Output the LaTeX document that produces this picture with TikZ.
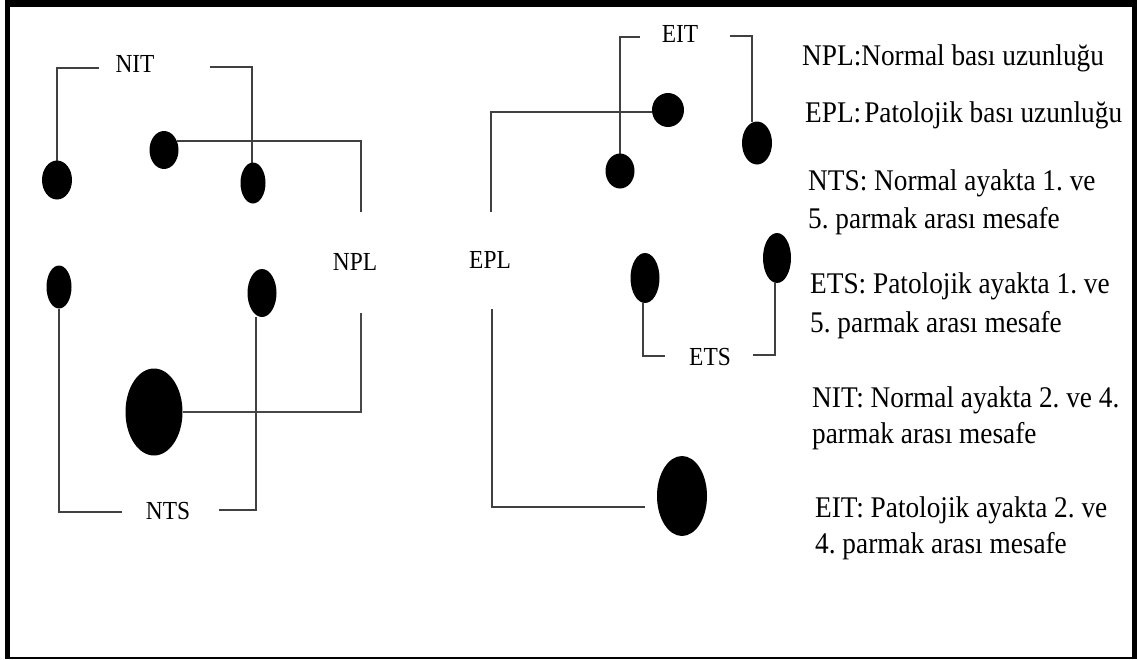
\documentclass[tikz,border=0pt]{standalone}
\usepackage{fontspec}
\setmainfont{Liberation Serif}
\newfontfamily\timesfont[FakeStretch=0.91]{Liberation Serif}
\newfontfamily\labelfont[FakeStretch=0.9]{Liberation Serif}
\usetikzlibrary{shapes.geometric}
\pgfdeclarelayer{bg}
\pgfdeclarelayer{paper}
\pgfsetlayers{paper,bg,main}
\frenchspacing
\begin{document}
\begin{tikzpicture}[x=1pt,y=-1pt,
  dot/.style={ellipse,fill=black,draw=none,inner sep=0pt,outer sep=0pt},
  conn/.style={draw=black!75,line width=1.5pt},
  thickconn/.style={draw=black!72,line width=2.6pt},
  lbl/.style={font=\labelfont\fontsize{26}{30}\selectfont,inner sep=0pt},
  legend/.style={font=\timesfont\fontsize{30}{36}\selectfont,inner sep=0pt,anchor=base west},
  framebar/.style={fill=black}]
\useasboundingbox (0,0) rectangle (1138,659);
\begin{pgfonlayer}{paper}
\fill[white] (0,0) rectangle (1138,659);
\end{pgfonlayer}
% frame
\fill[framebar] (5,0) rectangle (1137,7);
\fill[framebar] (5,0) rectangle (10,659);
\fill[framebar] (1132,0) rectangle (1137,659);
\fill[framebar] (5,656.5) rectangle (1137,659);

% ---------- left (normal) foot ----------
\node[dot,minimum width=30pt,minimum height=39pt] (A) at (57,180) {};
\node[dot,minimum width=29pt,minimum height=38pt] (B) at (164,150) {};
\node[dot,minimum width=25pt,minimum height=41pt] (C) at (253,183) {};
\node[dot,minimum width=25pt,minimum height=43pt] (D) at (59,287) {};
\node[dot,minimum width=29pt,minimum height=48pt] (E) at (262,293) {};
\node[dot,minimum width=57pt,minimum height=87pt] (F) at (154,412) {};

\node[lbl] (nit) at (135,64) {NIT};
\node[lbl] (npl) at (355,262) {NPL};
\node[lbl] (nts) at (168,511) {NTS};

\coordinate (nitL) at (99,68);
\coordinate (nitR) at (210,67);
\coordinate (nplTop) at (361,212);
\coordinate (nplBot) at (361,313);
\coordinate (ntsL) at (122,512);
\coordinate (ntsR) at (219,510);

% ---------- right (pathologic) foot ----------
\node[dot,minimum width=32pt,minimum height=34pt] (G) at (668,110) {};
\node[dot,minimum width=29pt,minimum height=35pt] (H) at (620,171) {};
\node[dot,minimum width=30pt,minimum height=43pt] (I) at (757,143) {};
\node[dot,minimum width=29pt,minimum height=50pt] (J) at (645,278) {};
\node[dot,minimum width=28pt,minimum height=50pt] (K) at (777,258) {};
\node[dot,minimum width=50pt,minimum height=80pt] (L) at (682,496) {};

\node[lbl] (eit) at (680,34) {EIT};
\node[lbl] (epl) at (490,260) {EPL};
\node[lbl] (ets) at (710,357) {ETS};

\coordinate (eitL) at (640,37);
\coordinate (eitR) at (730,36);
\coordinate (eplTop) at (491,212);
\coordinate (eplBot) at (492,309);
\coordinate (etsL) at (665,356);
\coordinate (etsR) at (753,355);

\begin{pgfonlayer}{bg}
  % left foot connectors
  \draw[conn] (A.north) |- (nitL);
  \draw[conn] ([xshift=-1pt]C.north) |- (nitR);
  \draw[conn] (B.35) -| (nplTop);
  \draw[thickconn] (nplBot) |- (F.east);
  \draw[conn] (D.south) |- (ntsL);
  \draw[conn] ([xshift=-6pt]E.south) |- (ntsR);
  % right foot connectors
  \draw[conn] (H.north) |- (eitL);
  \draw[conn] ([xshift=-5pt]I.north) |- (eitR);
  \draw[conn] ([yshift=-2pt]G.west) -| (eplTop);
  \draw[conn] (eplBot) |- ([xshift=-12pt,yshift=-11pt]L.west);
  \draw[conn] ([xshift=-2pt]J.south) |- (etsL);
  \draw[conn] ([xshift=-2pt]K.south) |- (etsR);
\end{pgfonlayer}

% ---------- legend ----------
\node[legend] (t1) at (802,65) {NPL:Normal bası uzunluğu};
\node[legend] (t2) at (805,122) {EPL:\kern3pt Patolojik bası uzunluğu};
\node[legend] (t3) at (808,190) {NTS: Normal ayakta 1. ve};
\node[legend] (t4) at (808,228) {5. parmak arası mesafe};
\node[legend] (t5) at (810,293) {ETS: Patolojik ayakta 1. ve};
\node[legend] (t6) at (810,332) {5. parmak arası mesafe};
\node[legend] (t7) at (812,407) {NIT: Normal ayakta 2. ve 4.};
\node[legend] (t8) at (812,443) {parmak arası mesafe};
\node[legend] (t9) at (815,517) {EIT: Patolojik ayakta 2. ve};
\node[legend] (t10) at (815,553) {4. parmak arası mesafe};
\end{tikzpicture}
\end{document}
